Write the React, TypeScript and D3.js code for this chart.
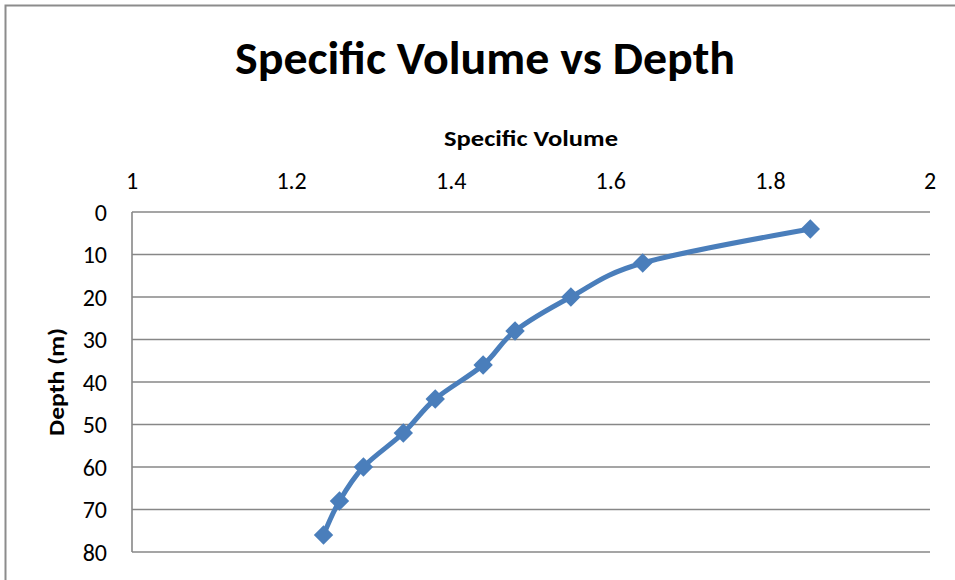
import React from "react";
import * as d3 from "d3";

// Specific volume profile by depth
const depths = [4, 12, 20, 28, 36, 44, 52, 60, 68, 76];
const specificVolume = [1.85, 1.64, 1.55, 1.48, 1.44, 1.38, 1.34, 1.29, 1.26, 1.24];
const xTicks = [1, 1.2, 1.4, 1.6, 1.8, 2];
const yTicks = [0, 10, 20, 30, 40, 50, 60, 70, 80];

const W = 955;
const H = 580;
const plot = { left: 132, right: 930, top: 212, bottom: 552 };
const FONT = "Carlito, Calibri, Lato, 'Open Sans', sans-serif";
const LINE = "#4a7ebb";
const GRID = "#878787";

export default function App() {
  const x = d3.scaleLinear().domain([1, 2]).range([plot.left, plot.right]);
  const y = d3.scaleLinear().domain([0, 80]).range([plot.top, plot.bottom]);

  const points = depths.map((d, i) => ({ d, v: specificVolume[i] }));
  const line = d3
    .line<{ d: number; v: number }>()
    .x((p) => x(p.v))
    .y((p) => y(p.d))
    .curve(d3.curveCardinal.tension(0));

  const diamond = d3.symbol().type(d3.symbolDiamond2).size(240)();

  return (
    <svg
      width={W}
      height={H}
      style={{ position: "fixed", left: 0, top: 0, background: "#fff" }}
      fontFamily={FONT}
    >
      <rect x={0} y={0} width={W} height={H} fill="#fff" />
      {/* chart frame */}
      <rect x={5.5} y={5.5} width={W + 20} height={H + 20} fill="none" stroke="#8c8c8c" strokeWidth={2} />

      <text
        x={485}
        y={74}
        textAnchor="middle"
        fontSize={46}
        fontWeight="bold"
        textLength={500}
        lengthAdjust="spacingAndGlyphs"
      >
        Specific Volume vs Depth
      </text>

      <text
        x={(plot.left + plot.right) / 2}
        y={146}
        textAnchor="middle"
        fontSize={22}
        fontWeight="bold"
        textLength={174}
        lengthAdjust="spacingAndGlyphs"
      >
        Specific Volume
      </text>

      <text
        transform={`translate(64, ${(plot.top + plot.bottom) / 2}) rotate(-90)`}
        textAnchor="middle"
        fontSize={22}
        fontWeight="bold"
        textLength={108}
        lengthAdjust="spacingAndGlyphs"
      >
        Depth (m)
      </text>

      {/* horizontal gridlines */}
      {yTicks.map((t) => (
        <line
          key={`g${t}`}
          x1={plot.left}
          x2={plot.right}
          y1={y(t)}
          y2={y(t)}
          stroke={GRID}
          strokeWidth={1.6}
        />
      ))}
      <line x1={plot.left} x2={plot.left} y1={plot.top} y2={plot.bottom} stroke={GRID} strokeWidth={1.6} />

      {yTicks.map((t) => (
        <text key={`y${t}`} x={107} y={y(t)} dy="0.36em" textAnchor="end" fontSize={24} fill="#000">
          {t}
        </text>
      ))}
      {xTicks.map((t) => (
        <text key={`x${t}`} x={x(t)} y={189} textAnchor="middle" fontSize={24} fill="#000">
          {t}
        </text>
      ))}

      <path d={line(points) ?? ""} fill="none" stroke={LINE} strokeWidth={5} strokeLinejoin="round" />
      {points.map((p, i) => (
        <path key={i} d={diamond ?? ""} transform={`translate(${x(p.v)},${y(p.d)})`} fill={LINE} />
      ))}
    </svg>
  );
}
